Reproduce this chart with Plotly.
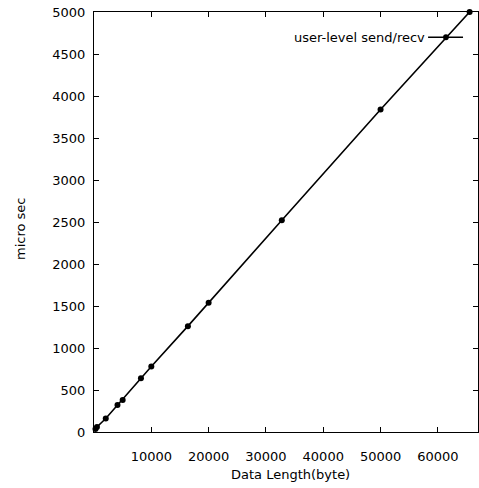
import plotly.graph_objects as go

# Data
data_length = [256, 512, 2048, 4096, 5000, 8192, 10000, 16384, 20000, 32768, 50000, 65536]
micro_sec = [36, 60, 160, 320, 380, 640, 780, 1260, 1540, 2520, 3840, 5000]

series_name = "user-level send/recv"
x_ticks = [10000, 20000, 30000, 40000, 50000, 60000]
y_ticks = list(range(0, 5001, 500))

FONT = "DejaVu Sans, Liberation Sans, Arial, sans-serif"

fig = go.Figure()
fig.add_trace(go.Scatter(
    x=data_length, y=micro_sec, mode="lines+markers",
    name=series_name,
    line=dict(color="black", width=1.6),
    marker=dict(color="black", size=6, symbol="circle"),
    cliponaxis=False, showlegend=False,
))

# gnuplot-style legend: text on the left, sample line on the right
ly = 0.940
fig.add_annotation(x=0.868, y=ly, xref="paper", yref="paper", text=series_name,
                   showarrow=False, xanchor="right", yanchor="middle",
                   font=dict(family=FONT, size=13, color="black"))
fig.add_shape(type="line", xref="paper", yref="paper", x0=0.870, x1=0.961, y0=ly, y1=ly,
              line=dict(color="black", width=1.6))
fig.add_shape(type="circle", xref="paper", yref="paper", x0=0.909, x1=0.924,
              y0=ly - 0.007, y1=ly + 0.007, fillcolor="black", line=dict(color="black", width=0))

# axis titles placed like the gnuplot original
fig.add_annotation(x=-0.192, y=0.484, xref="paper", yref="paper", text="micro sec",
                   textangle=-90, showarrow=False, xanchor="center", yanchor="middle",
                   font=dict(family=FONT, size=13, color="black"))
fig.add_annotation(x=0.512, y=-0.102, xref="paper", yref="paper", text="Data Length(byte)",
                   showarrow=False, xanchor="center", yanchor="middle",
                   font=dict(family=FONT, size=13, color="black"))

axis_common = dict(
    showgrid=False, zeroline=False, showline=True, linecolor="black", linewidth=1.3,
    mirror="ticks", ticks="inside", ticklen=5, tickcolor="black", tickwidth=1.2,
    tickfont=dict(family=FONT, size=13, color="black"),
)

fig.update_layout(
    width=479, height=488,
    margin=dict(l=94, r=1, t=12, b=56),
    paper_bgcolor="white", plot_bgcolor="white",
    xaxis=dict(range=[0, 67000], tickvals=x_ticks, ticktext=[str(v) for v in x_ticks],
               ticklabelstandoff=12, **axis_common),
    yaxis=dict(range=[0, 5000], tickvals=y_ticks, ticktext=[str(v) for v in y_ticks],
               ticklabelstandoff=5, **axis_common),
)

fig.write_html("out.html")
